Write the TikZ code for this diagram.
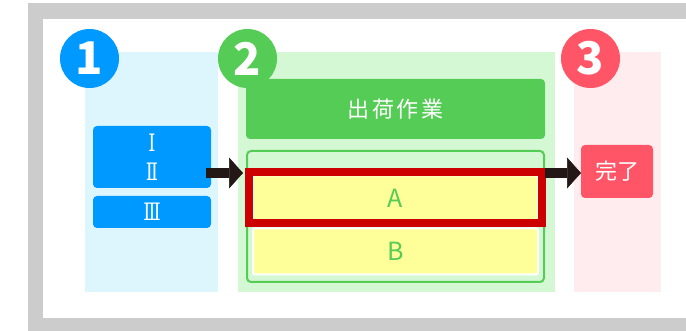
\documentclass[tikz,border=0pt]{standalone}
\usepackage{fontspec}
\setmainfont{Noto Sans CJK JP}
\newfontfamily\cjkwide[LetterSpace=12]{Noto Sans CJK JP}
\newfontfamily\romanfont[FakeStretch=0.75]{DejaVu Serif}
\usepackage{tikz}
\usetikzlibrary{arrows.meta,positioning,calc,backgrounds}
\definecolor{framegray}{HTML}{CCCCCC}
\definecolor{stepblue}{HTML}{0099FF}
\definecolor{paleblue}{HTML}{DDF6FD}
\definecolor{stepgreen}{HTML}{55CC55}
\definecolor{palegreen}{HTML}{D4F8D4}
\definecolor{stepred}{HTML}{FF5566}
\definecolor{palered}{HTML}{FFECEE}
\definecolor{rowyellow}{HTML}{FFFF99}
\definecolor{markred}{HTML}{CC0000}
\definecolor{arrowdark}{HTML}{231815}
\tikzset{
    %Define standard arrow tip
    >={Triangle[length=14pt,width=31pt,line width=0.5pt]},
    %Define style for panels
    panel/.style={
           rectangle, inner sep=0pt, outer sep=0pt},
    %Define style for step badges
    badge/.style={
           circle, minimum size=59pt, inner sep=0pt, text=white,
           font=\fontsize{45}{45}\selectfont\bfseries},
    %Define style for boxes
    box/.style={
           rectangle, rounded corners=4pt, inner sep=0pt, outer sep=0pt,
           text=white},
    % Define arrow style
    pil/.style={
           ->,
           line width=10pt,
           draw=arrowdark}
}

\begin{document}
\begin{tikzpicture}[x=1pt, y=-1pt]
	\tikzstyle{row} = [box, fill=rowyellow, draw=white, line width=2pt, rounded corners=2pt,
	                   minimum width=285pt, minimum height=46pt, text=stepgreen,
	                   font=\fontsize{25}{25}\selectfont]
	\useasboundingbox (0,0) rectangle (686,331);

	% Frame
	\fill[framegray] (28,3) rectangle (686,331);
	\fill[white] (43,19) rectangle (686,318);

	% Panels
	\node[panel, fill=paleblue, minimum width=133pt, minimum height=240pt] (p1) at (151.5,172) {};
	\node[panel, fill=palegreen, minimum width=317pt, minimum height=240pt] (p2) at (396.5,172) {};
	\node[panel, fill=palered, minimum width=87pt, minimum height=240pt] (p3) at (617.5,172) {};

	% Step 1
	\node[box, fill=stepblue, minimum width=118pt, minimum height=62pt, align=center,
	      font=\fontsize{24}{29}\selectfont\romanfont] (roman) at (152,157) {Ⅰ\\Ⅱ};
	\node[box, fill=stepblue, minimum width=118pt, minimum height=32pt,
	      font=\fontsize{24}{24}\selectfont\romanfont, below=8pt of roman] (roman3) {Ⅲ};

	% Step 2
	\node[box, fill=stepgreen, minimum width=299pt, minimum height=60pt,
	      font=\fontsize{22}{22}\selectfont\cjkwide] (work) at (395.5,109) {出荷作業};
	\node[box, fill=palegreen, draw=stepgreen, line width=2pt, minimum width=297pt,
	      minimum height=131pt, below=12pt of work] (inner) {};
	\node[row] (rowa) at (395.5,198.5) {A};
	\node[row, below=7pt of rowa] (rowb) {B};
	\node[rectangle, draw=markred, line width=8pt, minimum width=293pt,
	      minimum height=51pt, inner sep=0pt] (mark) at (395.5,197.5) {};

	% Step 3
	\node[box, fill=stepred, minimum width=72pt, minimum height=53pt,
	      font=\fontsize{22}{22}\selectfont] (done) at (617,171.5) {完了};

	% Arrows
	\coordinate (arrowrow) at (0,173);
	\draw[pil, shorten <=-5pt, shorten >=4pt] (roman.east |- arrowrow) -- (inner.west |- arrowrow);
	\draw[pil, shorten <=-1pt] (mark.east |- arrowrow) -- (done.west |- arrowrow);

	% Badges
	\node[badge, fill=stepblue] (b1) at (89.5,58.5) {1};
	\node[badge, fill=stepgreen] (b2) at (247.5,58.5) {2};
	\node[badge, fill=stepred] (b3) at (590.5,58.5) {3};
\end{tikzpicture}
\end{document}
